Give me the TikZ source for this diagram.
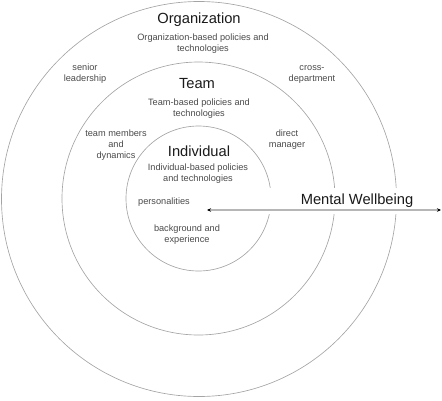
\documentclass[tikz,border=0pt]{standalone}
\usepackage{fontspec}
\setmainfont{Liberation Sans}
\usetikzlibrary{arrows.meta}
\definecolor{ringgray}{HTML}{A4A4A4}
\definecolor{labelgray}{HTML}{4A4A4A}
\definecolor{titlegray}{HTML}{1A1A1A}
\begin{document}
\begin{tikzpicture}[x=1pt,y=-1pt,
        ring/.style={draw=ringgray, line width=0.65pt, circle, inner sep=0pt},
        smalltext/.style={text=labelgray, align=center, inner sep=0pt, font=\fontsize{9.2}{11}\selectfont},
        bigtext/.style={text=titlegray, inner sep=0pt, font=\fontsize{14.7}{17}\selectfont}]
        \useasboundingbox (0,0) rectangle (442,400);

        \node (orgring) [ring, minimum size=395pt] at (199,199) {};
        \node (teamring) [ring, minimum size=273pt] at (198.5,198.5) {};
        \node (indring) [ring, minimum size=145pt] at (198.5,198.5) {};

        \node (org) [bigtext] at (199,20) {Organization};
        \node (orgpol) [smalltext] at (203,44) {Organization-based policies and\\technologies};
        \node (senior) [smalltext] at (85,74) {senior\\leadership};
        \node (cross) [smalltext] at (312,74) {cross-\\department};

        \node (team) [bigtext] at (197,84) {Team};
        \node (teampol) [smalltext] at (199,109) {Team-based policies and\\technologies};
        \node (members) [smalltext] at (116,145.5) {team members\\and\\dynamics};
        \node (direct) [smalltext] at (287,140) {direct\\manager};

        \node (indiv) [bigtext] at (199,151) {Individual};
        \node (indpol) [smalltext] at (198,173.5) {Individual-based policies\\and technologies};
        \node (pers) [smalltext] at (164,202.5) {personalities};
        \node (backg) [smalltext] at (187,235) {background and\\experience};

        \node (mw) [bigtext, fill=white, minimum width=178pt, minimum height=26pt] at (352,201) {};
        \node (mwtext) [bigtext] at (357,201) {Mental Wellbeing};

        \coordinate (wellin) at (207,210);
        \coordinate (wellout) at (441,210);
        \draw[{Stealth[black,length=4pt,width=3.5pt]}-{Stealth[black,length=4pt,width=3.5pt]}, draw=ringgray!80, line width=1.3pt] (wellin) -- (wellout);
    \end{tikzpicture}
\end{document}
